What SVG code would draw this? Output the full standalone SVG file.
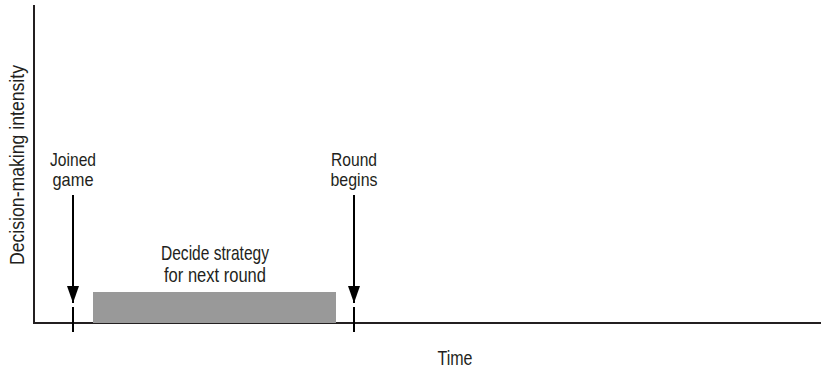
<svg xmlns="http://www.w3.org/2000/svg" width="821" height="369" viewBox="0 0 821 369">
<style>
.t{font-family:"Liberation Sans",Arial,sans-serif;font-size:21px;fill:#231f20;}
.s{font-size:19px;}
.ax{stroke:#231f20;stroke-width:2;fill:none;}
.ar{stroke:#000;stroke-width:2;fill:none;}
</style>
<defs>
<marker id="ah" markerUnits="userSpaceOnUse" markerWidth="18" markerHeight="12" refX="17" refY="6" orient="auto">
<path d="M0,0 L17,6 L0,12 Z" fill="#000"/>
</marker>
</defs>
<g id="axes">
<line class="ax" x1="34" y1="5" x2="34" y2="323"/>
<line class="ax" x1="33" y1="323" x2="821" y2="323"/>
</g>
<g id="block">
<rect x="93" y="292" width="243" height="31" fill="#999999"/>
<text class="t" x="215" y="260" text-anchor="middle" textLength="108" lengthAdjust="spacingAndGlyphs">Decide strategy</text>
<text class="t" x="215" y="282" text-anchor="middle" textLength="102" lengthAdjust="spacingAndGlyphs">for next round</text>
</g>
<g id="joined">
<text class="t s" x="73" y="166" text-anchor="middle" textLength="46" lengthAdjust="spacingAndGlyphs">Joined</text>
<text class="t s" x="73" y="186" text-anchor="middle" textLength="41" lengthAdjust="spacingAndGlyphs">game</text>
</g>
<g id="round">
<text class="t s" x="354" y="166" text-anchor="middle" textLength="46" lengthAdjust="spacingAndGlyphs">Round</text>
<text class="t s" x="354" y="186" text-anchor="middle" textLength="47" lengthAdjust="spacingAndGlyphs">begins</text>
</g>
<g id="connectors">
<line class="ar" x1="73" y1="195" x2="73" y2="303" marker-end="url(#ah)"/>
<line class="ar" x1="73" y1="307" x2="73" y2="332"/>
<line class="ar" x1="354" y1="195" x2="354" y2="303" marker-end="url(#ah)"/>
<line class="ar" x1="354" y1="307" x2="354" y2="332"/>
</g>
<g id="labels">
<text class="t" x="455" y="365" text-anchor="middle" textLength="35" lengthAdjust="spacingAndGlyphs">Time</text>
<text class="t" transform="translate(24,165) rotate(-90)" text-anchor="middle" textLength="200" lengthAdjust="spacingAndGlyphs">Decision-making intensity</text>
</g>
</svg>
